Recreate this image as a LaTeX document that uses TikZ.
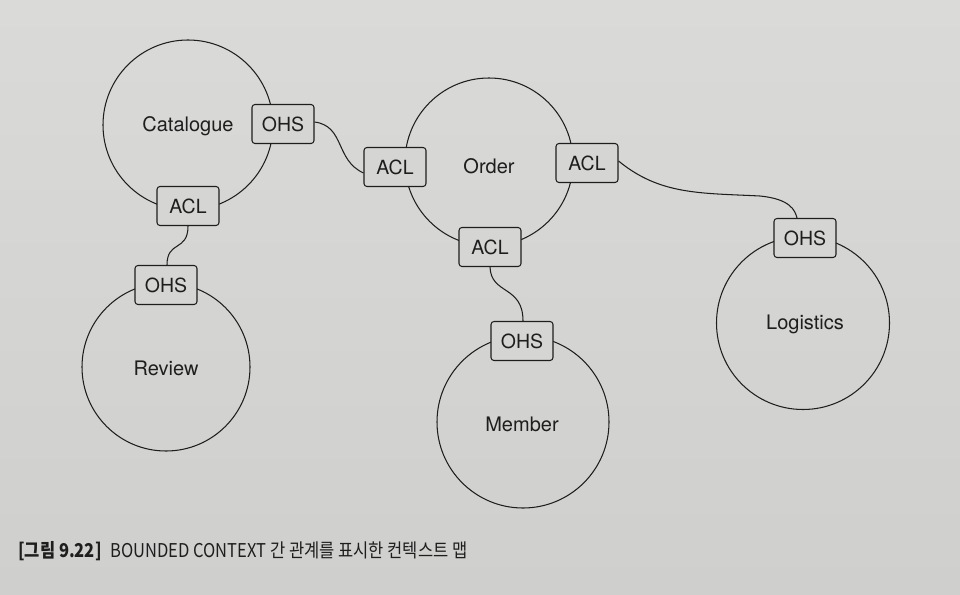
\documentclass[tikz,border=0pt]{standalone}
\usepackage{fontspec}
\setmainfont{TeX Gyre Heros}
\newfontfamily\cjk{Noto Sans CJK KR}
\definecolor{paper}{HTML}{D5D5D3}
\definecolor{papertop}{HTML}{DADAD8}
\definecolor{paperbot}{HTML}{CFCFCD}
\definecolor{ink}{HTML}{1E1E1E}
\tikzset{
  ctx/.style={circle, draw=ink, line width=1.05pt, inner sep=0pt},
  ctxlabel/.style={font=\fontsize{20}{24}\selectfont, text=ink, inner sep=0pt},
  pat/.style={draw=ink, line width=1.05pt, fill=paper, rounded corners=3pt, minimum width=62pt, minimum height=39pt, inner sep=0pt, text=ink, font=\fontsize{19.5}{22}\selectfont},
  link/.style={draw=ink, line width=1.05pt},
}
\begin{document}
\begin{tikzpicture}[x=1pt,y=-1pt]
\useasboundingbox (0,0) rectangle (960,594);
\shade[top color=papertop, bottom color=paperbot] (0,0) rectangle (960,594);
% contexts
\node[ctx, minimum size=170pt] (cat) at (188,125) {};
\node[ctx, minimum size=168pt] (rev) at (166,367) {};
\node[ctx, minimum size=168pt] (ord) at (489,162) {};
\node[ctx, minimum size=172pt] (mem) at (523,422) {};
\node[ctx, minimum size=173pt] (log) at (803,323) {};
\node[ctxlabel] (catl) at (188,126) {Catalogue};
\node[ctxlabel] (revl) at (166,368) {Review};
\node[ctxlabel] (ordl) at (489,166) {Order};
\node[ctxlabel] (meml) at (522,424) {Member};
\node[ctxlabel] (logl) at (805,324) {Logistics};
% patterns
\node[pat] (catohs) at (283,124) {OHS};
\node[pat] (catacl) at (188,206) {ACL};
\node[pat] (revohs) at (166,285) {OHS};
\node[pat] (ordaclw) at (395,167) {ACL};
\node[pat] (ordacle) at (587,163) {ACL};
\node[pat] (ordacls) at (490,247) {ACL};
\node[pat] (memohs) at (522,341) {OHS};
\node[pat] (logohs) at (805,238) {OHS};
% links
\draw[link] ([yshift=2pt]catohs.east) .. controls (345,126) and (335,160) .. ([yshift=-6pt]ordaclw.west);
\draw[link] (catacl.south) .. controls (188,252) and (167,240) .. ([xshift=1pt]revohs.north);
\draw[link] (ordacls.south) .. controls (491,295) and (523,285) .. ([xshift=1pt]memohs.north);
\draw[link] ([yshift=2pt]ordacle.east) .. controls (660,195) and (700,193) .. (760,196) .. controls (790,199) and (795,210) .. ([xshift=-8pt]logohs.north);
% caption
\node[anchor=base west, inner sep=0pt, text=ink] (cap) at (18,557) {\scalebox{0.87}[1]{\cjk\fontsize{19}{22}\selectfont\textbf{[그림 9.22]}\hspace{10pt}BOUNDED CONTEXT 간 관계를 표시한 컨텍스트 맵}};
\end{tikzpicture}
\end{document}
